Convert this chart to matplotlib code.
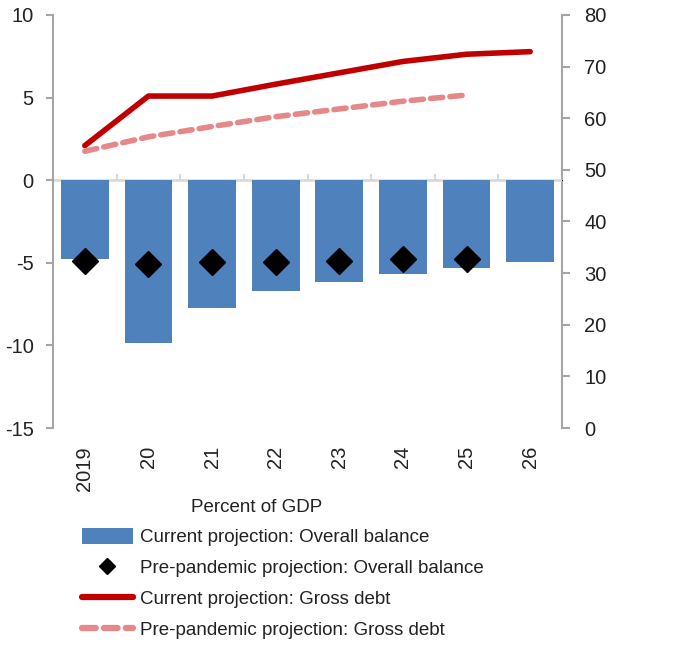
import matplotlib
matplotlib.use('Agg')
import matplotlib.pyplot as plt
from matplotlib.lines import Line2D
from matplotlib.patches import Patch

plt.rcParams['font.family'] = ['Liberation Sans', 'DejaVu Sans']
plt.rcParams['axes.unicode_minus'] = False

years = ['2019', '20', '21', '22', '23', '24', '25', '26']
balance_current = [-4.76, -9.88, -7.76, -6.72, -6.17, -5.7, -5.34, -4.98]
balance_pre = [-4.88, -5.05, -4.97, -4.97, -4.88, -4.76, -4.76]
debt_current = [54.7, 64.3, 64.3, 66.6, 68.8, 71.0, 72.4, 72.9]
debt_pre = [53.6, 56.4, 58.4, 60.3, 61.8, 63.3, 64.5]

BLUE = '#4F81BD'
RED = '#C00000'
PINK = '#E6878A'
GRAY = '#A6A6A6'
TXT = '#222222'
FS = 14.5
LFS = 13.5

fig = plt.figure(figsize=(6.74, 6.45), dpi=100)
ax = fig.add_axes([53 / 674, 1 - 428 / 645, 509 / 674, 413 / 645])
ax2 = ax.twinx()

x = list(range(len(years)))
ax.bar(x, balance_current, width=0.75, color=BLUE, zorder=2)
ax.axhline(0, color='#D9D9D9', lw=1.8, zorder=1)
ax.plot(x[:len(balance_pre)], balance_pre, linestyle='none', marker='D',
        markersize=13, color='black', zorder=4)

ax2.plot(x, debt_current, color=RED, lw=4, solid_capstyle='round', zorder=3)
ax2.plot(x[:len(debt_pre)], debt_pre, color=PINK, lw=4, dashes=(2.2, 1.3),
         dash_capstyle='round', zorder=3)

ax.set_xlim(-0.5, len(years) - 0.5)
ax.set_ylim(-15, 10)
ax.set_yticks([-15, -10, -5, 0, 5, 10])
ax2.set_ylim(0, 80)
ax2.set_yticks(range(0, 81, 10))

for a in (ax, ax2):
    a.spines['top'].set_visible(False)
    a.spines['bottom'].set_visible(False)
    a.patch.set_visible(False)
ax.spines['right'].set_visible(False)
ax2.spines['left'].set_visible(False)
ax.spines['left'].set_color(GRAY)
ax.spines['left'].set_linewidth(1.5)
ax2.spines['right'].set_color(GRAY)
ax2.spines['right'].set_linewidth(1.5)
ax.set_zorder(ax2.get_zorder() + 1)

ax.tick_params(axis='y', colors=GRAY, labelcolor=TXT, labelsize=FS,
               length=5, width=1.5, pad=9)
ax2.tick_params(axis='y', colors=GRAY, labelcolor=TXT, labelsize=FS,
                length=6, width=1.5, pad=10)
ax.set_xticks(x)
ax.set_xticklabels(years, rotation=90, fontsize=FS, color=TXT)
ax.tick_params(axis='x', length=0, pad=13)

# small category-boundary ticks on the zero line
sec = ax.secondary_xaxis(15 / 25)
sec.set_xticks([i + 0.5 for i in x[:-1]])
sec.set_xticklabels([])
sec.spines['bottom'].set_visible(False)
sec.tick_params(axis='x', direction='out', length=4, width=1.5, colors='#D9D9D9')

fig.text(257 / 674, 1 - 507 / 645, 'Percent of GDP', ha='center', va='center',
         fontsize=LFS, color=TXT)

handles = [
    Patch(facecolor=BLUE, edgecolor='none'),
    Line2D([], [], linestyle='none', marker='D', markersize=8, color='black'),
    Line2D([], [], color=RED, lw=4.5, solid_capstyle='round'),
    Line2D([], [], color=PINK, lw=4.5, dashes=(2.2, 1.3), dash_capstyle='round'),
]
labels = [
    'Current projection: Overall balance',
    'Pre-pandemic projection: Overall balance',
    'Current projection: Gross debt',
    'Pre-pandemic projection: Gross debt',
]
fig.legend(handles, labels, loc='upper left',
           bbox_to_anchor=(82 / 674, 1 - 528 / 645), frameon=False,
           fontsize=LFS, handlelength=2.7, handleheight=0.9, handletextpad=0.37,
           labelspacing=0.68, borderpad=0, borderaxespad=0,
           labelcolor=TXT)

fig.savefig('out.png', dpi=100)
